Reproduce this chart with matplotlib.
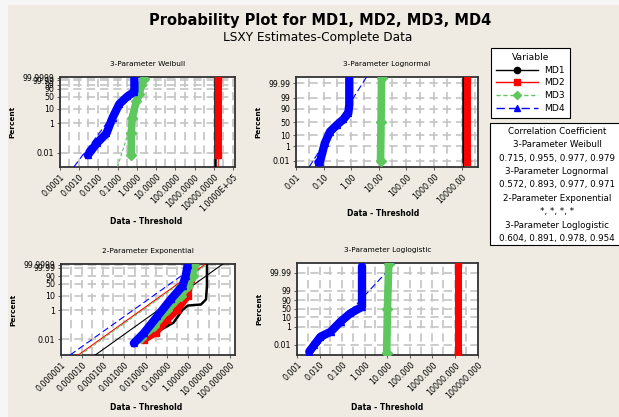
import math
import numpy as np
import matplotlib
matplotlib.use('Agg')
import matplotlib.pyplot as plt
from matplotlib.lines import Line2D
from matplotlib.patches import Rectangle
from matplotlib.ticker import FixedLocator, FixedFormatter, LogLocator, NullFormatter

# ---------------- data ----------------
variables = ['MD1', 'MD2', 'MD3', 'MD4']

# (Data - Threshold, Percent) points along each band
weibull_pts = {
    'MD1': ([11700, 11700], [0.001, 99.9999]),
    'MD2': ([17000, 17000], [0.007, 99.999]),
    'MD3': ([0.51, 0.51, 0.57, 0.93, 1.33, 1.7, 2.4], [0.007, 0.21, 2.4, 28, 62, 98.9, 99.999]),
    'MD4': ([0.0028, 0.0081, 0.026, 0.054, 0.12, 0.32, 0.74, 0.74],
            [0.007, 0.044, 0.21, 2.4, 18.8, 50.7, 78, 99.999]),
}
weibull_fit = {
    'MD1': ([11700, 11700], [0.0005, 99.99999]),
    'MD2': ([17000, 17200], [0.0005, 99.99999]),
    'MD3': ([0.098, 3.0], [0.0011, 99.99997]),
    'MD4': ([0.00053, 1.7], [0.0011, 99.99997]),
}

lognormal_pts = {
    'MD1': ([11200, 11200], [0.006, 99.999]),
    'MD2': ([15000, 15000], [0.006, 99.999]),
    'MD3': ([11.5, 12, 12.5], [0.008, 50, 99.999]),
    'MD4': ([0.065, 0.074, 0.11, 0.17, 0.30, 0.52, 0.78, 0.85, 0.85],
            [0.005, 0.0067, 2.0, 17.6, 38.5, 60, 80, 95, 99.9987]),
}
lognormal_fit = {
    'MD1': ([11200, 11200], [0.0007, 99.9993]),
    'MD2': ([15000, 15000], [0.0007, 99.9993]),
    'MD3': ([12, 12], [0.0007, 99.9993]),
    'MD4': ([0.030, 3.6], [0.00075, 99.99925]),
}

exponential_pts = {
    'MD1': ([0.02, 0.21, 0.58, 1.0, 4.2, 7.2, 8.0, 8.0],
            [0.02, 0.14, 1.13, 2.1, 2.5, 5.5, 37, 99.9999]),
    'MD2': ([0.0083, 0.030, 0.107, 0.32, 0.98, 1.38, 1.66],
            [0.009, 0.028, 0.22, 1.1, 8.8, 76, 99.9999]),
    'MD3': ([0.0058, 0.025, 0.107, 0.46, 0.98, 1.67, 2.0],
            [0.012, 0.076, 1.1, 9.2, 38, 91, 99.9999]),
    'MD4': ([0.0028, 0.0083, 0.036, 0.155, 0.56, 0.79, 0.98],
            [0.0052, 0.026, 0.38, 5.5, 38, 91, 99.9999]),
}
exponential_fit = {
    'MD1': ([4.2e-5, 45], [0.0008, 99.99999]),
    'MD2': ([6.6e-6, 6.9], [0.0008, 99.99999]),
    'MD3': ([8.0e-6, 8.5], [0.0008, 99.99999]),
    'MD4': ([2.7e-6, 3.0], [0.0008, 99.99999]),
}

loglogistic_pts = {
    'MD1': ([11000, 11000], [0.0012, 99.999]),
    'MD2': ([14000, 14000], [0.0012, 99.999]),
    'MD3': ([9.4, 10.2, 11.6], [0.0013, 50, 99.999]),
    'MD4': ([0.0035, 0.0058, 0.011, 0.031, 0.085, 0.23, 0.76, 0.76],
            [0.0018, 0.01, 0.082, 0.29, 3.7, 24, 63, 99.998]),
}
loglogistic_fit = {
    'MD1': ([11000, 11000], [0.0007, 99.9993]),
    'MD2': ([14000, 14000], [0.0007, 99.9993]),
    'MD3': ([10.2, 10.2], [0.0007, 99.9993]),
    'MD4': ([0.0035, 22], [0.00078, 99.99916]),
}

weibull_xticks = [1e-4, 1e-3, 1e-2, 1e-1, 1, 10, 100, 1000, 10000, 100000]
weibull_xlabels = ['0.0001', '0.0010', '0.0100', '0.1000', '1.0000', '10.0000',
                   '100.0000', '1000.0000', '10000.0000', '1.0000E+05']
lognormal_xticks = [0.01, 0.1, 1, 10, 100, 1000, 10000]
lognormal_xlabels = ['0.01', '0.10', '1.00', '10.00', '100.00', '1000.00', '10000.00']
exponential_xticks = [1e-6, 1e-5, 1e-4, 1e-3, 1e-2, 1e-1, 1, 10, 100]
exponential_xlabels = ['0.000001', '0.000010', '0.000100', '0.001000', '0.010000',
                       '0.100000', '1.000000', '10.000000', '100.000000']
loglogistic_xticks = [1e-3, 1e-2, 1e-1, 1, 10, 100, 1000, 10000, 100000]
loglogistic_xlabels = ['0.001', '0.010', '0.100', '1.000', '10.000', '100.000',
                       '1000.000', '10000.000', '100000.000']

weibull_yticks = [0.01, 1, 10, 50, 90, 99, 99.99, 99.9999]
lognormal_yticks = [0.01, 1, 10, 50, 90, 99, 99.99]
exponential_yticks = [0.01, 1, 10, 50, 90, 99.99, 99.9999]
loglogistic_yticks = [0.01, 1, 10, 50, 90, 99, 99.99]

corr_weibull = [0.715, 0.955, 0.977, 0.979]
corr_lognormal = [0.572, 0.893, 0.977, 0.971]
corr_exponential = ['*', '*', '*', '*']
corr_loglogistic = [0.604, 0.891, 0.978, 0.954]

# ---------------- styles ----------------
colors = {'MD1': '#000000', 'MD2': '#ff0000', 'MD3': '#5ec75e', 'MD4': '#0000ff'}
markers = {'MD1': 'o', 'MD2': 's', 'MD3': 'D', 'MD4': '^'}
lstyles = {'MD1': '-', 'MD2': '-', 'MD3': (0, (3, 2)), 'MD4': (0, (6, 3))}
band_w = {'MD1': 1.8, 'MD2': 5, 'MD3': 5.5, 'MD4': 6}
bg = '#efebe2'
grid_c = '#c4c4c4'

plt.rcParams['font.family'] = ['DejaVu Sans']


# ---------------- probability scales ----------------
def weib_fwd(p):
    q = np.clip(np.asarray(p, float) / 100.0, 1e-14, 1 - 1e-15)
    return np.log(-np.log1p(-q))


def weib_inv(t):
    with np.errstate(over='ignore'):
        return 100.0 * -np.expm1(-np.exp(np.asarray(t, float)))


A = [-3.969683028665376e+01, 2.209460984245205e+02, -2.759285104469687e+02,
     1.383577518672690e+02, -3.066479806614716e+01, 2.506628277459239e+00]
B = [-5.447609879822406e+01, 1.615858368580409e+02, -1.556989798598866e+02,
     6.680131188771972e+01, -1.328068155288572e+01, 1.0]
C = [-7.784894002430293e-03, -3.223964580411365e-01, -2.400758277161838e+00,
     -2.549671464975006e+00, 4.374664141464968e+00, 2.938163982698783e+00]
D = [7.784695709041462e-03, 3.224671290700398e-01, 2.445134137142996e+00,
     3.754408661907416e+00, 1.0]


def norm_fwd(p):
    q = np.clip(np.asarray(p, float) / 100.0, 1e-300, 1 - 1e-16)
    r = q - 0.5
    s = r * r
    mid = np.polyval(A, s) * r / np.polyval(B, s)
    ql = np.sqrt(-2 * np.log(q))
    low = np.polyval(C, ql) / np.polyval(D, ql)
    qh = np.sqrt(-2 * np.log1p(-q))
    high = -np.polyval(C, qh) / np.polyval(D, qh)
    return np.where(q < 0.02425, low, np.where(q > 0.97575, high, mid))


_erf = np.vectorize(math.erf)


def norm_inv(z):
    return 100.0 * 0.5 * (1 + _erf(np.asarray(z, float) / math.sqrt(2)))


def logit_fwd(p):
    q = np.clip(np.asarray(p, float) / 100.0, 1e-14, 1 - 1e-14)
    return np.log(q / (1 - q))


def logit_inv(t):
    with np.errstate(over='ignore'):
        return 100.0 / (1 + np.exp(-np.asarray(t, float)))


# ---------------- figure ----------------
W, H = 619, 417
fig = plt.figure(figsize=(6.19, 4.17), dpi=100)
fig.patch.set_facecolor('#f6f6f6')
fig.patches.append(Rectangle((8 / W, 0), 1, 1 - 5 / H, transform=fig.transFigure,
                             facecolor=bg, edgecolor='none', zorder=-10))

fig.text(320 / W, 1 - 20 / H, 'Probability Plot for MD1, MD2, MD3, MD4',
         ha='center', va='center', fontsize=10.5, fontweight='bold')
fig.text(318 / W, 1 - 38 / H, 'LSXY Estimates-Complete Data',
         ha='center', va='center', fontsize=8.7)

# title, axes box (px), x-label centre (px), data, fit, scale, limits, ticks
panels = [
    ('3-Parameter Weibull', [60, 77, 235, 167], (146, 222), weibull_pts, weibull_fit,
     (weib_fwd, weib_inv), (1e-4, 1.27e5), (0.00107, 99.99997),
     weibull_xticks, weibull_xlabels, weibull_yticks),
    ('3-Parameter Lognormal', [296, 77, 478, 167], (383, 213), lognormal_pts, lognormal_fit,
     (norm_fwd, norm_inv), (0.01, 39000), (0.00075, 99.99925),
     lognormal_xticks, lognormal_xlabels, lognormal_yticks),
    ('2-Parameter Exponential', [61, 264, 235, 355], (146, 407), exponential_pts, exponential_fit,
     (weib_fwd, weib_inv), (1e-6, 170), (0.0008, 99.99999),
     exponential_xticks, exponential_xlabels, exponential_yticks),
    ('3-Parameter Loglogistic', [297, 263, 478, 355], (387, 407), loglogistic_pts, loglogistic_fit,
     (logit_fwd, logit_inv), (1e-3, 1.05e5), (0.00078, 99.99916),
     loglogistic_xticks, loglogistic_xlabels, loglogistic_yticks),
]

for (title, box, xlab_pos, pts, fits, funcs, xlim, ylim, xt, xl, yt) in panels:
    x0, y0, x1, y1 = box
    ax = fig.add_axes([x0 / W, 1 - y1 / H, (x1 - x0) / W, (y1 - y0) / H])
    ax.set_facecolor('white')
    ax.set_xscale('log')
    ax.set_yscale('function', functions=funcs)
    ax.set_xlim(*xlim)
    ax.set_ylim(*ylim)

    for v in variables:
        fx, fp = fits[v]
        ax.plot(fx, fp, color=colors[v], ls=lstyles[v], lw=0.8, zorder=3)
    for v in variables:
        px, pp = pts[v]
        ax.plot(px, pp, color=colors[v], lw=band_w[v], solid_capstyle='round',
                solid_joinstyle='round', zorder=4)
        if v != 'MD1':
            ax.plot(px, pp, ls='none', marker=markers[v], ms=5, color=colors[v], zorder=4)

    ax.xaxis.set_major_locator(FixedLocator(xt))
    ax.xaxis.set_major_formatter(FixedFormatter(xl))
    ax.xaxis.set_minor_locator(LogLocator(base=10, subs=[3.0], numticks=30))
    ax.xaxis.set_minor_formatter(NullFormatter())
    ax.yaxis.set_major_locator(FixedLocator(yt))
    ax.yaxis.set_major_formatter(FixedFormatter(['%g' % t for t in yt]))
    ax.tick_params(axis='both', which='major', labelsize=5.7, length=2.5, width=0.6,
                   pad=1.5, color='#444444')
    ax.tick_params(axis='x', which='minor', length=0)
    for lab in ax.get_xticklabels():
        lab.set_rotation(45)
        lab.set_ha('right')
        lab.set_va('top')
        lab.set_rotation_mode('anchor')

    ax.grid(True, which='major', axis='both', color=grid_c, ls=(0, (5, 3)), lw=1.2, zorder=0)
    ax.grid(True, which='minor', axis='x', color=grid_c, ls=(0, (5, 3)), lw=1.2, zorder=0)
    ax.set_axisbelow(True)
    for sp in ax.spines.values():
        sp.set_linewidth(1.3)
        sp.set_color('#333333')

    ax.set_title(title, fontsize=5.3, pad=8)
    ax.set_ylabel('Percent', fontsize=5.3, fontweight='bold', labelpad=5)
    fig.text(xlab_pos[0] / W, 1 - xlab_pos[1] / H, 'Data - Threshold', ha='center',
             va='center', fontsize=5.5, fontweight='bold')

# legend
handles = [Line2D([0], [0], color=colors[v], ls=lstyles[v], lw=1.0, marker=markers[v], ms=4.5)
           for v in variables]
leg = fig.legend(handles, variables, title='Variable', loc='upper left',
                 bbox_to_anchor=(491 / W, 1 - 48 / H), borderaxespad=0, fontsize=6.6,
                 title_fontsize=6.6, handlelength=4.6, labelspacing=0.4, borderpad=0.55,
                 handletextpad=0.6, fancybox=False, framealpha=1, edgecolor='black')
leg.get_frame().set_linewidth(0.8)

# correlation coefficient box
fig.patches.append(Rectangle((490 / W, 1 - 245 / H), 140 / W, 122 / H, transform=fig.transFigure,
                             facecolor='white', edgecolor='black', lw=0.8, zorder=1))


def fmt(vals):
    return ', '.join(v if isinstance(v, str) else '%.3f' % v for v in vals)


lines = ['Correlation Coefficient',
         '3-Parameter Weibull', fmt(corr_weibull),
         '3-Parameter Lognormal', fmt(corr_lognormal),
         '2-Parameter Exponential', fmt(corr_exponential),
         '3-Parameter Loglogistic', fmt(corr_loglogistic)]
for i, s in enumerate(lines):
    fig.text(557 / W, 1 - (131 + i * 13.5) / H, s, ha='center', va='center', fontsize=6.3, zorder=2)

fig.savefig('out.png', dpi=100, facecolor=fig.get_facecolor())
